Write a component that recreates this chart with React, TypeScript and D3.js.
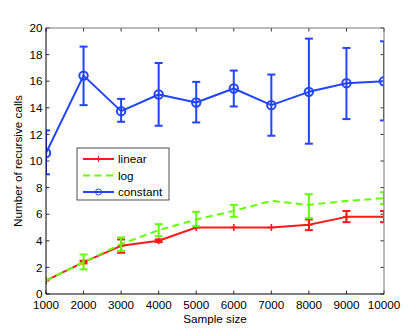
import React from "react";
import * as d3 from "d3";

const sampleSizes = [1000, 2000, 3000, 4000, 5000, 6000, 7000, 8000, 9000, 10000];

const linearMean = [1.0, 2.4, 3.62, 4.0, 5.0, 5.0, 5.0, 5.2, 5.8, 5.8];
const linearLo = [1.0, 2.3, 3.1, 3.9, 5.0, 5.0, 5.0, 4.8, 5.4, 5.4];
const linearHi = [1.0, 2.5, 4.1, 4.1, 5.0, 5.0, 5.0, 5.6, 6.24, 6.24];

const logMean = [1.0, 2.4, 3.75, 4.8, 5.6, 6.25, 7.0, 6.7, 7.0, 7.2];
const logLo = [1.0, 1.85, 3.25, 4.35, 5.1, 5.8, 7.0, 5.7, 7.0, 6.75];
const logHi = [1.0, 2.97, 4.25, 5.25, 6.18, 6.7, 7.0, 7.5, 7.0, 7.65];

const constMean = [10.6, 16.42, 13.75, 15.0, 14.4, 15.45, 14.2, 15.2, 15.85, 16.0];
const constLo = [9.0, 14.2, 12.95, 12.65, 12.9, 14.1, 11.9, 11.3, 13.15, 13.05];
const constHi = [12.3, 18.6, 14.67, 17.37, 15.95, 16.8, 16.5, 19.2, 18.5, 19.0];

const xTicks = [1000, 2000, 3000, 4000, 5000, 6000, 7000, 8000, 9000, 10000];
const yTicks = [0, 2, 4, 6, 8, 10, 12, 14, 16, 18, 20];

const seriesNames = ["linear", "log", "constant"];

const W = 415;
const H = 332;
const L = 46, R = 384, T = 28, B = 294;
const FONT = "'Liberation Sans', Arial, Helvetica, sans-serif";
const FS = 11.7;

const RED = "#ff1a1a";
const GREEN = "#66ff00";
const BLUE = "#2244ff";

export default function App() {
  const x = d3.scaleLinear().domain([1000, 10000]).range([L, R]);
  const y = d3.scaleLinear().domain([0, 20]).range([B, T]);
  const line = d3
    .line<[number, number]>()
    .x((d) => x(d[0]))
    .y((d) => y(d[1]));

  const series = [
    { name: seriesNames[0], mean: linearMean, lo: linearLo, hi: linearHi, color: RED, dash: undefined as string | undefined, marker: "plus" },
    { name: seriesNames[1], mean: logMean, lo: logLo, hi: logHi, color: GREEN, dash: "7,4.5", marker: "none" },
    { name: seriesNames[2], mean: constMean, lo: constLo, hi: constHi, color: BLUE, dash: undefined, marker: "circle" },
  ];

  const cap = 4;

  return (
    <div style={{ position: "absolute", left: 0, top: 0 }}>
      <svg width={W} height={H} style={{ display: "block", background: "#fff" }}>
        <defs>
          <clipPath id="plotclip">
            <rect x={L} y={T - 2} width={R - L} height={B - T + 4} />
          </clipPath>
        </defs>
        <rect x={0} y={0} width={W} height={H} fill="#fff" />
        {/* ticks */}
        {xTicks.map((t) => (
          <g key={"xt" + t}>
            <line x1={x(t)} x2={x(t)} y1={B} y2={B - 3.5} stroke="#000" strokeWidth={0.8} />
            <line x1={x(t)} x2={x(t)} y1={T} y2={T + 3.5} stroke="#000" strokeWidth={0.8} />
            <text x={x(t)} y={309} textAnchor="middle" fontFamily={FONT} fontSize={FS} fill="#000">
              {t}
            </text>
          </g>
        ))}
        {yTicks.map((t) => (
          <g key={"yt" + t}>
            <line x1={L} x2={L + 3.5} y1={y(t)} y2={y(t)} stroke="#000" strokeWidth={0.8} />
            <line x1={R} x2={R - 3.5} y1={y(t)} y2={y(t)} stroke="#000" strokeWidth={0.8} />
            <text x={42.5} y={y(t) + 4.2} textAnchor="end" fontFamily={FONT} fontSize={FS} fill="#000">
              {t}
            </text>
          </g>
        ))}
        {/* series */}
        <g clipPath="url(#plotclip)">
          {series.map((s) => (
            <g key={s.name}>
              <path
                d={line(sampleSizes.map((v, i) => [v, s.mean[i]] as [number, number])) || ""}
                fill="none"
                stroke={s.color}
                strokeWidth={2}
                strokeDasharray={s.dash}
                strokeLinejoin="round"
              />
              {sampleSizes.map((v, i) =>
                s.hi[i] - s.lo[i] > 0.01 ? (
                  <g key={"e" + i} stroke={s.color} strokeWidth={2}>
                    <line x1={x(v)} x2={x(v)} y1={y(s.lo[i])} y2={y(s.hi[i])} />
                    <line x1={x(v) - cap} x2={x(v) + cap} y1={y(s.lo[i])} y2={y(s.lo[i])} />
                    <line x1={x(v) - cap} x2={x(v) + cap} y1={y(s.hi[i])} y2={y(s.hi[i])} />
                  </g>
                ) : null
              )}
              {s.marker === "circle" &&
                sampleSizes.map((v, i) => (
                  <circle key={"m" + i} cx={x(v)} cy={y(s.mean[i])} r={4.2} fill="none" stroke={s.color} strokeWidth={2} />
                ))}
              {s.marker === "plus" &&
                sampleSizes.map((v, i) => (
                  <g key={"m" + i} stroke={s.color} strokeWidth={1.6}>
                    <line x1={x(v) - 3.5} x2={x(v) + 3.5} y1={y(s.mean[i])} y2={y(s.mean[i])} />
                    <line x1={x(v)} x2={x(v)} y1={y(s.mean[i]) - 3.5} y2={y(s.mean[i]) + 3.5} />
                  </g>
                ))}
            </g>
          ))}
        </g>
        {/* axes box */}
        <line x1={L} x2={R} y1={T} y2={T} stroke="#777" strokeWidth={1} />
        <line x1={R} x2={R} y1={T} y2={B} stroke="#777" strokeWidth={1} />
        <line x1={L} x2={L} y1={T} y2={B} stroke="#000" strokeWidth={1} />
        <line x1={L} x2={R} y1={B} y2={B} stroke="#000" strokeWidth={1} />
        {/* legend */}
        <g>
          <rect x={77} y={148} width={92} height={52} fill="#fff" stroke="#222" strokeWidth={0.8} />
          {series.map((s, i) => {
            const ly = 159 + i * 16.5;
            return (
              <g key={"lg" + s.name}>
                <line x1={83} x2={114} y1={ly} y2={ly} stroke={s.color} strokeWidth={2} strokeDasharray={s.dash} />
                {s.marker === "plus" && (
                  <g stroke={s.color} strokeWidth={1.2}>
                    <line x1={98.5} x2={98.5} y1={ly - 3} y2={ly + 3} />
                  </g>
                )}
                {s.marker === "circle" && (
                  <circle cx={98.5} cy={ly} r={3} fill="none" stroke={s.color} strokeWidth={1} />
                )}
                <text x={118} y={ly + 4.2} fontFamily={FONT} fontSize={FS} fill="#000">
                  {s.name}
                </text>
              </g>
            );
          })}
        </g>
        {/* axis labels */}
        <text x={(L + R) / 2} y={323} textAnchor="middle" fontFamily={FONT} fontSize={FS} fill="#000">
          Sample size
        </text>
        <text
          transform={`translate(22,${(T + B) / 2}) rotate(-90)`}
          textAnchor="middle"
          fontFamily={FONT}
          fontSize={FS}
          fill="#000"
        >
          Number of recursive calls
        </text>
      </svg>
    </div>
  );
}
